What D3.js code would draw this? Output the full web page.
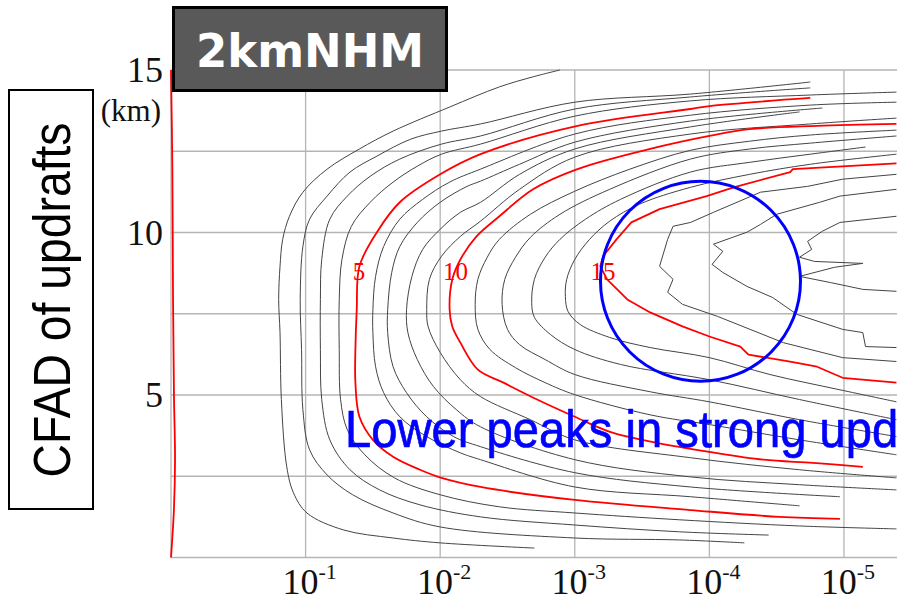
<!DOCTYPE html>
<html>
<head>
<meta charset="utf-8">
<script src="https://cdn.jsdelivr.net/npm/d3@7"></script>
<style>
  body { margin: 0; background: #fff; }
  svg { display: block; }
</style>
</head>
<body>
<svg id="chart" width="897" height="604"></svg>
<script>
// axis ticks: frequency exponents and heights (km)
var xTickExp = [-1, -2, -3, -4, -5];
var yGrid = [0, 2.5, 5, 7.5, 10, 12.5, 15];
var yLabels = [5, 10, 15];

// contours of updraft speed, each as [log10 frequency, height km], from upper end to lower end
var w0 = [[0,15],[-0.01,12],[-0.015,8],[-0.022,5],[-0.03,3],[-0.022,1.5],[-0.005,0.3],[0,0]];
var w1 = [[-2.89,15.0],[-2.69,14.79],[-2.44,14.48],[-2.07,13.86],[-1.65,13.12],[-1.40,12.57],[-1.16,11.95],[-0.98,11.24],[-0.88,10.50],[-0.83,9.79],[-0.81,8.96],[-0.80,7.94],[-0.81,6.92],[-0.82,4.86],[-0.86,2.79],[-0.91,1.99],[-1.01,1.37],[-1.28,0.85],[-1.65,0.60],[-2.00,0.45],[-2.70,0.29]];
var w2 = [[-4.75,14.63],[-3.86,14.26],[-3.00,14.01],[-2.30,13.34],[-2.01,13.12],[-1.78,12.87],[-1.53,12.35],[-1.33,11.86],[-1.16,11.12],[-1.03,10.41],[-0.98,9.57],[-0.96,7.94],[-0.97,6.40],[-0.98,4.55],[-1.03,3.31],[-1.16,2.54],[-1.35,1.93],[-1.65,1.37],[-2.00,0.94],[-3.00,0.60],[-3.78,0.54],[-4.26,0.45]];
var w3 = [[-4.75,14.45],[-3.86,14.17],[-3.00,13.80],[-2.30,12.97],[-2.01,12.72],[-1.70,12.26],[-1.48,11.73],[-1.31,11.12],[-1.18,10.41],[-1.12,9.17],[-1.11,7.94],[-1.11,6.40],[-1.12,4.86],[-1.18,3.62],[-1.33,2.70],[-1.55,2.08],[-1.85,1.62],[-2.30,1.25],[-3.00,1.00],[-3.78,0.79],[-4.44,0.69]];
var w4 = [[-5.39,14.32],[-4.75,14.23],[-3.86,14.05],[-3.00,13.58],[-2.30,12.72],[-2.01,12.41],[-1.83,12.04],[-1.65,11.55],[-1.48,10.93],[-1.34,10.19],[-1.27,9.17],[-1.25,7.94],[-1.25,6.40],[-1.26,4.86],[-1.31,3.93],[-1.44,3.16],[-1.66,2.45],[-2.00,1.93],[-2.44,1.56],[-3.00,1.37],[-3.78,1.16],[-4.67,0.97],[-5.39,0.88]];
var w5 = [[-4.75,14.14],[-4.00,13.89],[-3.86,13.80],[-3.02,13.28],[-2.30,12.41],[-2.00,11.79],[-1.70,10.93],[-1.53,10.01],[-1.40,8.96],[-1.38,7.63],[-1.37,6.40],[-1.37,5.38],[-1.40,4.33],[-1.50,3.62],[-1.65,3.10],[-1.85,2.70],[-2.01,2.45],[-2.30,2.17],[-3.00,1.77],[-3.86,1.46],[-4.52,1.25],[-4.97,1.19]];
var w6 = [[-5.39,14.01],[-4.75,13.92],[-3.86,13.61],[-3.00,13.03],[-2.30,11.95],[-2.07,11.55],[-1.87,11.02],[-1.70,10.41],[-1.58,9.57],[-1.52,8.65],[-1.50,7.63],[-1.50,6.92],[-1.52,5.87],[-1.58,5.07],[-1.70,4.33],[-1.90,3.72],[-2.15,3.22],[-2.30,3.01],[-3.00,2.17],[-3.86,1.87],[-4.67,1.59]];
var w7 = [[-4.84,13.83],[-3.86,13.43],[-3.00,12.78],[-2.59,12.10],[-2.30,11.58],[-2.20,11.42],[-2.00,10.93],[-1.83,10.31],[-1.70,9.57],[-1.64,8.77],[-1.61,7.63],[-1.61,6.92],[-1.65,5.87],[-1.75,5.07],[-1.90,4.33],[-2.10,3.72],[-2.30,3.41],[-3.00,2.61],[-3.86,2.17],[-4.97,1.87]];
var w8 = [[-4.67,13.71],[-3.86,13.25],[-3.00,12.57],[-2.59,11.79],[-2.30,10.93],[-2.15,10.62],[-2.00,10.10],[-1.87,9.48],[-1.79,8.65],[-1.75,7.63],[-1.76,6.92],[-1.83,6.09],[-1.95,5.26],[-2.12,4.55],[-2.30,4.02],[-3.00,3.01],[-3.86,2.48],[-4.67,2.24],[-5.39,2.08]];
var w9 = [[-5.39,13.52],[-4.75,13.34],[-3.86,13.03],[-3.00,12.32],[-2.59,11.33],[-2.30,10.35],[-2.15,9.88],[-2.01,9.27],[-1.92,8.56],[-1.90,7.63],[-1.91,7.11],[-2.00,6.31],[-2.15,5.47],[-2.30,4.95],[-2.67,4.24],[-3.00,3.62],[-3.86,3.07],[-4.67,2.70],[-5.39,2.45]];
var w10 = [[-5.39,13.34],[-4.80,13.28],[-4.30,13.18],[-4.00,12.97],[-3.56,12.57],[-3.02,11.95],[-2.69,11.33],[-2.44,10.50],[-2.27,9.88],[-2.15,9.17],[-2.09,8.56],[-2.07,7.63],[-2.09,7.11],[-2.15,6.61],[-2.28,5.78],[-2.47,5.38],[-2.72,4.86],[-3.00,4.33],[-3.28,3.84],[-3.61,3.53],[-4.00,3.25],[-4.40,3.01],[-4.77,2.91],[-5.14,2.79]];
var w11 = [[-5.39,13.15],[-4.75,13.00],[-4.30,12.81],[-3.86,12.53],[-3.41,11.95],[-3.00,11.27],[-2.67,10.56],[-2.44,9.79],[-2.35,9.24],[-2.28,8.56],[-2.26,7.79],[-2.28,7.02],[-2.37,6.40],[-2.56,5.84],[-2.78,5.38],[-3.00,5.01],[-3.56,4.39],[-4.00,4.09],[-4.67,3.62],[-5.39,3.16]];
var w12 = [[-5.39,12.97],[-4.75,12.75],[-4.30,12.57],[-3.86,12.26],[-3.26,11.33],[-2.89,10.56],[-2.67,9.85],[-2.56,9.24],[-2.48,8.56],[-2.46,7.79],[-2.50,7.02],[-2.59,6.55],[-2.78,6.09],[-3.00,5.63],[-3.56,5.10],[-4.00,4.79],[-4.67,4.24],[-5.39,3.72]];
var w13 = [[-5.16,12.63],[-4.75,12.41],[-4.30,12.16],[-3.86,11.86],[-3.34,11.02],[-3.08,10.41],[-2.89,9.79],[-2.78,9.24],[-2.70,8.56],[-2.68,7.85],[-2.70,7.39],[-2.82,6.86],[-3.00,6.40],[-3.34,5.94],[-4.00,5.47],[-4.67,4.86],[-5.39,4.24]];
var w14 = [[-5.39,12.41],[-4.75,12.10],[-4.30,11.79],[-3.86,11.39],[-3.48,10.87],[-3.26,10.35],[-3.11,9.79],[-3.00,9.17],[-2.94,8.56],[-2.93,8.03],[-2.95,7.57],[-3.04,7.17],[-3.26,6.77],[-3.56,6.46],[-4.00,6.15],[-4.45,5.63],[-4.97,5.16],[-5.39,4.79]];
var w15 = [[-5.39,12.13],[-4.62,11.95],[-4.60,11.86],[-4.18,11.39],[-3.98,11.12],[-3.63,10.72],[-3.42,10.31],[-3.31,9.79],[-3.21,9.27],[-3.19,8.96],[-3.24,8.56],[-3.39,7.94],[-3.56,7.54],[-3.80,7.11],[-4.00,6.80],[-4.23,6.49],[-4.29,6.24],[-4.60,6.03],[-4.80,5.87],[-4.99,5.53],[-5.39,5.38]];
var w16 = [[-5.39,11.79],[-4.99,11.64],[-4.73,11.42],[-4.38,11.24],[-4.03,10.62],[-3.86,10.31],[-3.73,10.19],[-3.69,9.79],[-3.63,8.96],[-3.73,8.56],[-3.69,8.16],[-3.80,7.79],[-4.06,7.42],[-4.55,6.61],[-4.99,6.15],[-5.39,6.03]];
var w17 = [[-5.39,11.33],[-4.97,11.12],[-4.82,10.93],[-4.50,10.56],[-4.38,10.25],[-4.28,10.01],[-4.03,9.64],[-4.10,9.42],[-4.02,9.02],[-4.10,8.77],[-4.28,8.34],[-4.47,8.00],[-4.65,7.48],[-4.99,7.02],[-5.14,6.92],[-5.16,6.49],[-5.39,6.46]];
var w18 = [[-5.39,10.50],[-4.97,10.31],[-4.84,10.04],[-4.73,9.73],[-4.76,9.48],[-4.67,9.24],[-4.78,9.11],[-5.14,9.05],[-4.93,8.93],[-4.67,8.65],[-4.90,8.46],[-5.14,8.25],[-5.39,8.19]];

var contours = [w0,w1,w2,w3,w4,w5,w6,w7,w8,w9,w10,w11,w12,w13,w14,w15,w16,w17,w18];
var labelLevels = [5, 10, 15];
var labelHeight = 8.8;

var svg = d3.select("#chart");
var width = +svg.attr("width"),
    height = +svg.attr("height");

var x = d3.scaleLog().domain([1, Math.pow(10, -5.394)]).range([171, 897]);
var y = d3.scaleLinear().domain([0, 15]).range([557.5, 70]);

svg.append("clipPath").attr("id", "plotclip")
  .append("rect").attr("x", 169).attr("y", 68).attr("width", width - 169).attr("height", 492);

// grid
var grid = svg.append("g").attr("stroke", "#b5b5b5").attr("stroke-width", 1.3);
grid.selectAll(".vg").data(xTickExp).enter().append("line")
    .attr("x1", function(d) { return x(Math.pow(10, d)); })
    .attr("x2", function(d) { return x(Math.pow(10, d)); })
    .attr("y1", y(15)).attr("y2", y(0));
grid.selectAll(".hg").data(yGrid).enter().append("line")
    .attr("x1", x(1)).attr("x2", width)
    .attr("y1", function(d) { return y(d); })
    .attr("y2", function(d) { return y(d); });
grid.append("line").attr("x1", x(1)).attr("x2", x(1)).attr("y1", y(15)).attr("y2", y(0));

// contour lines
var smooth = d3.line()
    .x(function(d) { return x(Math.pow(10, d[0])); })
    .y(function(d) { return y(d[1]); })
    .curve(d3.curveCatmullRom.alpha(0.5));
var rough = d3.line()
    .x(function(d) { return x(Math.pow(10, d[0])); })
    .y(function(d) { return y(d[1]); });

var cg = svg.append("g").attr("clip-path", "url(#plotclip)").attr("fill", "none");
cg.selectAll("path").data(contours).enter().append("path")
    .attr("d", function(d, i) { return i >= 15 ? rough(d) : smooth(d); })
    .attr("stroke", function(d, i) { return i % 5 == 0 ? "#ff0000" : "#444"; })
    .attr("stroke-width", function(d, i) { return i % 5 == 0 ? 1.8 : 1; })
    .attr("stroke-linejoin", "round");

// contour labels, placed where each red line crosses labelHeight on its left side
function crossAt(pts, h) {
  for (var i = 0; i < pts.length - 1; i++) {
    var a = pts[i], b = pts[i + 1];
    if (a[1] >= h && b[1] < h) {
      var t = (a[1] - h) / (a[1] - b[1]);
      return a[0] + t * (b[0] - a[0]);
    }
  }
  return pts[0][0];
}
svg.selectAll(".clab").data(labelLevels).enter().append("text")
    .attr("x", function(d) { return x(Math.pow(10, crossAt(contours[d], labelHeight))); })
    .attr("y", y(labelHeight) + 8)
    .attr("text-anchor", "middle")
    .attr("font-family", "'Liberation Serif', 'Times New Roman', serif")
    .attr("font-size", 25)
    .attr("fill", "#ff0000")
    .text(function(d) { return d; });

// annotation circle
svg.append("circle")
    .attr("cx", x(Math.pow(10, -3.934))).attr("cy", y(8.5)).attr("r", 100)
    .attr("fill", "none").attr("stroke", "#0000ff").attr("stroke-width", 3);

svg.append("text")
    .attr("transform", "translate(345,447) scale(0.925,1)")
    .attr("font-family", "'Liberation Sans', Arial, sans-serif")
    .attr("font-size", 51)
    .attr("fill", "#0000ff")
    .attr("stroke", "#0000ff").attr("stroke-width", 0.7)
    .text("Lower peaks in strong upd");

// tick labels
var xl = svg.selectAll(".xl").data(xTickExp).enter().append("text")
    .attr("x", function(d) { return x(Math.pow(10, d)) + 4; })
    .attr("y", 594)
    .attr("text-anchor", "middle")
    .attr("font-family", "'Liberation Serif', 'Times New Roman', serif")
    .attr("fill", "#111");
xl.append("tspan").attr("font-size", 36).text("10");
xl.append("tspan").attr("font-size", 22).attr("dy", -15).text(function(d) { return d; });

svg.selectAll(".yl").data(yLabels).enter().append("text")
    .attr("x", 163)
    .attr("y", function(d) { return y(d) + 12; })
    .attr("text-anchor", "end")
    .attr("font-family", "'Liberation Serif', 'Times New Roman', serif")
    .attr("font-size", 36)
    .attr("fill", "#111")
    .text(function(d) { return d; });
svg.append("text")
    .attr("x", 161).attr("y", 121)
    .attr("text-anchor", "end")
    .attr("font-family", "'Liberation Serif', 'Times New Roman', serif")
    .attr("font-size", 31)
    .attr("fill", "#111")
    .text("(km)");

// title box
svg.append("rect")
    .attr("x", 173.5).attr("y", 7.5).attr("width", 273).attr("height", 83)
    .attr("fill", "#595959").attr("stroke", "#000").attr("stroke-width", 3);
svg.append("text")
    .attr("x", 310).attr("y", 67)
    .attr("text-anchor", "middle")
    .attr("font-family", "'Comic Sans MS', 'DejaVu Sans', sans-serif")
    .attr("font-weight", "bold")
    .attr("font-size", 46)
    .attr("textLength", 228).attr("lengthAdjust", "spacingAndGlyphs")
    .attr("fill", "#fff")
    .text("2kmNHM");

// side label box
svg.append("rect")
    .attr("x", 9).attr("y", 90).attr("width", 84).attr("height", 419)
    .attr("fill", "#fff").attr("stroke", "#000").attr("stroke-width", 2);
svg.append("text")
    .attr("transform", "translate(70,300) rotate(-90)")
    .attr("text-anchor", "middle")
    .attr("font-family", "'Liberation Sans', Arial, sans-serif")
    .attr("font-size", 51)
    .attr("textLength", 355).attr("lengthAdjust", "spacingAndGlyphs")
    .attr("fill", "#000")
    .text("CFAD of updrafts");
</script>
</body>
</html>
